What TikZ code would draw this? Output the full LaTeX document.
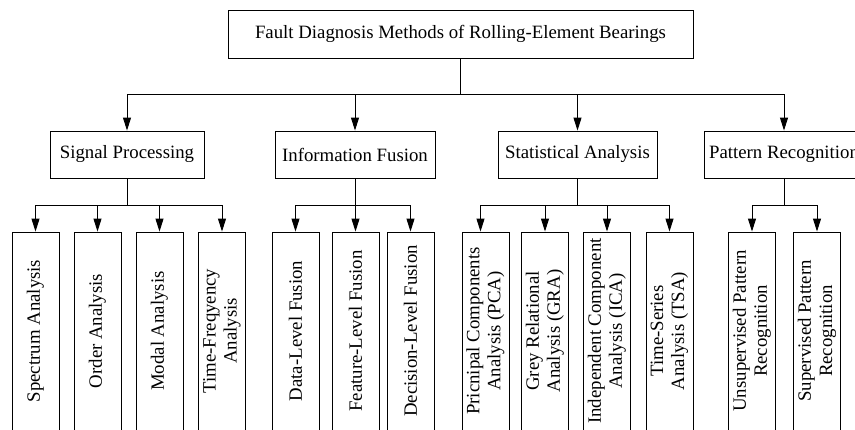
\documentclass[tikz,border=0pt]{standalone}
\usepackage{fontspec}
\setmainfont{Liberation Serif}
\usetikzlibrary{arrows.meta}
\begin{document}
\begin{tikzpicture}[x=1pt,y=-1pt,
  box/.style={draw, line width=0.9pt, inner sep=0pt, align=center,
    font=\fontsize{18.8}{21}\selectfont},
  topbox/.style={box, minimum width=465pt, minimum height=48pt},
  groupbox/.style={box, minimum height=47pt},
  leafbox/.style={box, rotate=90, minimum width=198pt, minimum height=47pt},
  link/.style={line width=0.9pt},
  arr/.style={link, -{Triangle[length=13pt,width=8pt]}}]
\useasboundingbox (0,0) rectangle (855,429);
\clip (0,0) rectangle (855,429);

% root
\node[topbox] (root) at (460.5,34) {Fault Diagnosis Methods of Rolling-Element Bearings};

% method groups
\node[groupbox, minimum width=154pt] (sp) at (127,154.5) {Signal Processing};
\node[groupbox, minimum width=160pt] (inf) at (355,154.5) {Information Fusion};
\node[groupbox, minimum width=159pt] (sa) at (577.5,154.5) {Statistical Analysis};
\node[groupbox, minimum width=160pt] (pr) at (784,154.5) {Pattern Recognition};

% signal processing
\node[leafbox] (spec) at (35.5,331) {Spectrum Analysis};
\node[leafbox] (ord) at (97.5,331) {Order Analysis};
\node[leafbox] (mod) at (159.5,331) {Modal Analysis};
\node[leafbox] (tf) at (222,331) {Time-Freqyency\\Analysis};

% information fusion
\node[leafbox] (dlf) at (295.5,331) {Data-Level Fusion};
\node[leafbox] (flf) at (355.5,331) {Feature-Level Fusion};
\node[leafbox] (dcf) at (410.5,331) {Decision-Level Fusion};

% statistical analysis
\node[leafbox] (pca) at (485.5,331) {Pricnipal Components\\Analysis (PCA)};
\node[leafbox] (gra) at (545,331) {Grey Relational\\Analysis (GRA)};
\node[leafbox] (ica) at (607,331) {Independent Component\\Analysis (ICA)};
\node[leafbox] (tsa) at (669.5,331) {Time-Series\\Analysis (TSA)};

% pattern recognition
\node[leafbox] (upr) at (752,331) {Unsupervised Pattern\\Recognition};
\node[leafbox] (spr) at (817,331) {Supervised Pattern\\Recognition};

% root to groups
\coordinate (rbus) at (root.south |- 0,94);
\draw[link] (root.south) -- (rbus);
\foreach \g in {sp,inf,sa,pr}
  \draw[arr] (rbus) -| (\g.north);

% groups to leaves
\foreach \g/\leaves in {sp/{spec,ord,mod,tf}, inf/{dlf,flf,dcf}, sa/{gra,ica,tsa}, pr/{upr,spr}}{
  \coordinate (\g bus) at (\g.south |- 0,205);
  \draw[link] (\g.south) -- (\g bus);
  \foreach \l in \leaves
    \draw[arr] (\g bus) -| (\l.east);
}
\draw[arr] (sabus) -| ([xshift=-5pt]pca.east);
\end{tikzpicture}
\end{document}
